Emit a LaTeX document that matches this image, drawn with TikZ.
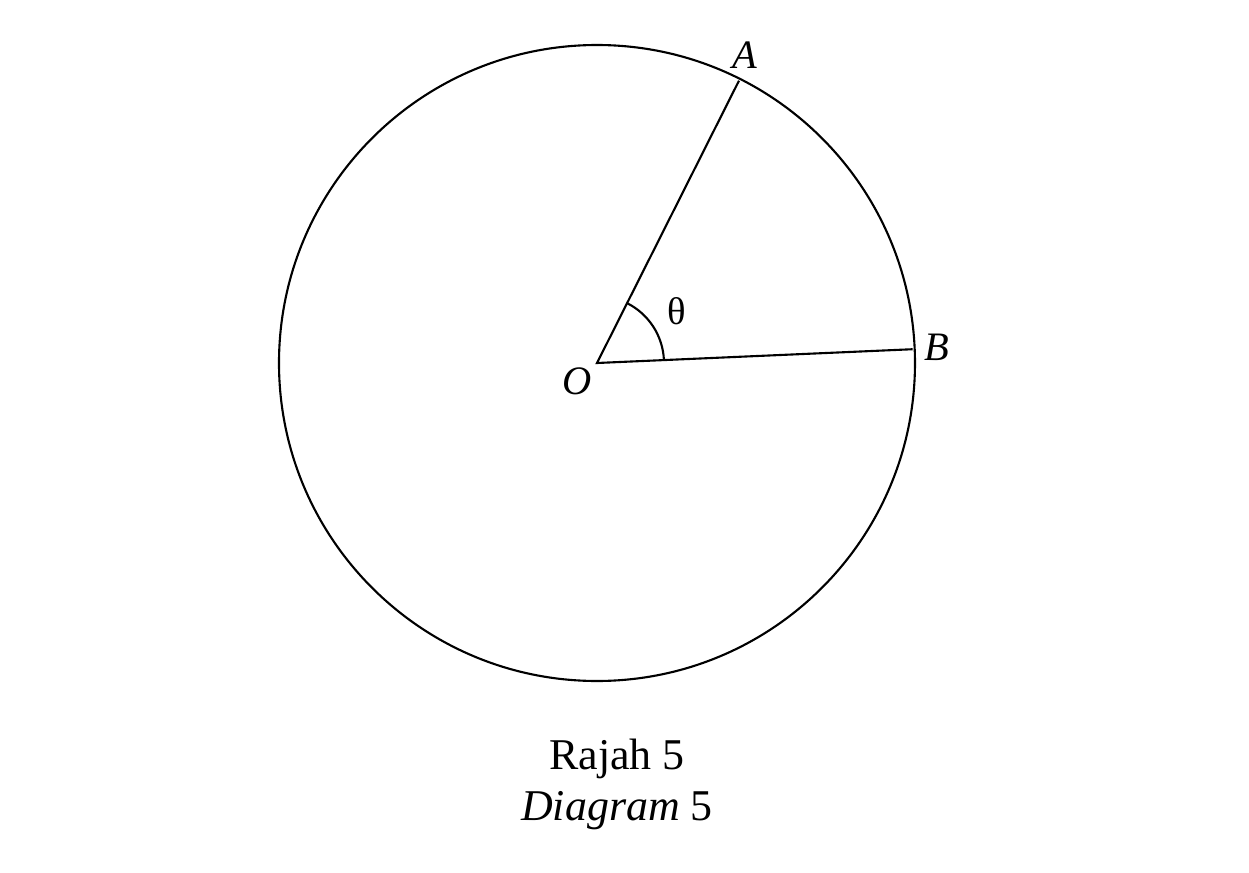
\documentclass[tikz,border=0pt]{standalone}
\usepackage{fontspec}
\setmainfont{Liberation Serif}
\usetikzlibrary{positioning}

\begin{document}
\begin{tikzpicture}[x=0.02cm,y=0.02cm,line width=1.2pt,
  lbl/.style={font=\fontsize{23}{27}\selectfont\itshape,inner sep=0pt}]

\useasboundingbox (-597,-510) rectangle (652,363);

\coordinate (O) at (0,0);
\coordinate (A) at (63.3:316);
\coordinate (B) at (2.5:316);

\draw (O) circle (318);
\draw (A) -- (O) -- (B);
\draw (2.5:67) arc (2.5:63.3:67);

\node[lbl] (LA) at (148,308) {A};
\node[lbl] (LB) at (340,16) {B};
\node[lbl] (LO) at (-20,-18) {O};
\node[inner sep=0pt,font=\fontsize{22}{26}\selectfont] (T) at (80,52) {θ};

\node[inner sep=0pt,anchor=base,font=\fontsize{25}{30}\selectfont] (R5) at (20,-406) {Rajah 5};
\node[inner sep=0pt,anchor=base,font=\fontsize{25}{30}\selectfont\itshape] (D5) at (20,-457) {Diagram \upshape 5};

\end{tikzpicture}
\end{document}
